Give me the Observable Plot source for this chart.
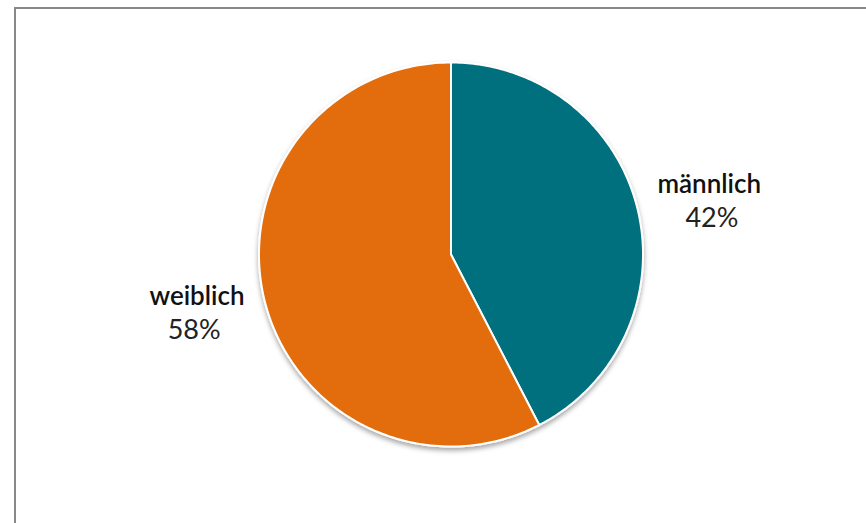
<!DOCTYPE html>
<html>
<head>
<meta charset="utf-8">
<script src="https://cdn.jsdelivr.net/npm/d3@7"></script>
<script src="https://cdn.jsdelivr.net/npm/@observablehq/plot@0.6"></script>
<style>
  html, body { margin: 0; padding: 0; background: #fff; }
  #wrap { position: relative; width: 866px; height: 523px; overflow: hidden; }
  #frame { position: absolute; left: 14px; top: 7px; width: 900px; height: 600px;
           border-top: 2px solid #898989; border-left: 2px solid #898989; box-sizing: border-box; }
  #chart { position: absolute; left: 0; top: 0; }
</style>
</head>
<body>
<div id="wrap"><div id="frame"></div><div id="chart"></div></div>
<script>
const categories = ["männlich", "weiblich"];
const values = [42.4, 57.6];
const labels = ["42%", "58%"];
const colors = ["#006F7F", "#E36C0A"];

const pie = d3.pie().sort(null).value(d => d.value)(
  categories.map((c, i) => ({ category: c, value: values[i], label: labels[i] }))
);

// Arc outlines in unit coordinates (angle measured clockwise from top)
const outline = [];
for (const s of pie) {
  outline.push({ category: s.data.category, x: 0, y: 0 });
  const n = 180;
  for (let k = 0; k <= n; k++) {
    const a = s.startAngle + (s.endAngle - s.startAngle) * k / n;
    outline.push({ category: s.data.category, x: Math.sin(a), y: Math.cos(a) });
  }
  outline.push({ category: s.data.category, x: 0, y: 0 });
}
const labelData = pie.map(s => {
  const m = (s.startAngle + s.endAngle) / 2;
  const side = Math.sin(m) >= 0 ? 1 : -1;
  return { category: s.data.category, label: s.data.label,
           anchor: side > 0 ? "start" : "end",
           x: 1.075 * side, y: 1.24 * Math.cos(m) };
});

const cx = 450.5, cy = 254, r = 192;
const chart = Plot.plot({
  width: 866, height: 523,
  margin: 0,
  style: { background: "transparent", fontFamily: "Lato, 'Open Sans', sans-serif" },
  x: { domain: [-1, 1], range: [cx - r, cx + r], axis: null },
  y: { domain: [-1, 1], range: [cy + r, cy - r], axis: null },
  color: { domain: categories, range: colors },
  marks: [
    Plot.line(outline, { x: "x", y: "y", z: "category", fill: "category",
      stroke: "white", strokeWidth: 2, strokeLinejoin: "round", curve: "linear" }),
    ...labelData.map(d => [
      Plot.text([d], { x: "x", y: "y", text: "category", dy: -14, fontSize: 26,
        fontWeight: 600, fill: "#111", textAnchor: d.anchor }),
      Plot.text([d], { x: "x", y: "y", text: "label", dy: 20, fontSize: 27,
        fontWeight: 400, fill: "#222",
        textAnchor: d.anchor, dx: d.anchor === "start" ? 28 : -24 })
    ]).flat()
  ]
});
// soft drop shadow under the pie
const ns = "http://www.w3.org/2000/svg";
const defs = document.createElementNS(ns, "defs");
defs.innerHTML = `<filter id="sh" x="-20%" y="-20%" width="140%" height="140%">
  <feDropShadow dx="0" dy="3" stdDeviation="2.5" flood-color="#000" flood-opacity="0.35"/></filter>`;
chart.insertBefore(defs, chart.firstChild);
const lineG = chart.querySelector("g[aria-label='line']");
if (lineG) lineG.setAttribute("filter", "url(#sh)");
document.getElementById("chart").appendChild(chart);
</script>
</body>
</html>
